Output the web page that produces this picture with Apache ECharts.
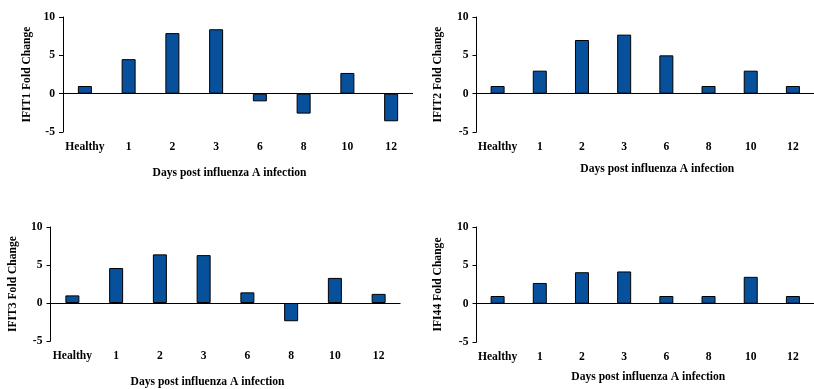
<!DOCTYPE html>
<html>
<head>
<meta charset="utf-8">
<script src="https://cdn.jsdelivr.net/npm/echarts@6/dist/echarts.min.js"></script>
<style>html,body{margin:0;padding:0;background:#fff}#c{width:814px;height:389px}</style>
</head>
<body>
<div id="c"></div>
<script>
const categories = ['Healthy', '1', '2', '3', '6', '8', '10', '12'];
const ifit1 = [1, 4.5, 7.9, 8.4, -1.0, -2.6, 2.7, -3.6];
const ifit2 = [1, 3, 7, 7.7, 5, 1, 3, 1];
const ifit3 = [1, 4.6, 6.4, 6.3, 1.4, -2.4, 3.3, 1.2];
const ifi44 = [1, 2.7, 4.1, 4.2, 1, 1, 3.5, 1];
const yTicks = { min: -5, max: 10, interval: 5 };
const xName = 'Days post influenza A infection';

const panels = [
  { data: ifit1, yName: 'IFIT1 Fold Change', grid: { left: 63, top: 17, width: 350, height: 115 }, nameGap: 35, pad: [0, 17, 0, 0], yGap: 30 },
  { data: ifit2, yName: 'IFIT2 Fold Change', grid: { left: 476.5, top: 17, width: 349, height: 115 }, nameGap: 31, pad: [0, 0, 0, 24], yGap: 33 },
  { data: ifit3, yName: 'IFIT3 Fold Change', grid: { left: 50.5, top: 227, width: 350, height: 115 }, nameGap: 35, pad: [0, 36, 0, 0], yGap: 32 },
  { data: ifi44, yName: 'IFI44 Fold Change', grid: { left: 476.5, top: 227, width: 349, height: 115 }, nameGap: 28.5, pad: [0, 0, 0, 6], yGap: 33 }
];

const font = 'Liberation Serif';
const txt = { fontFamily: font, fontWeight: 'bold', fontSize: 11.6, color: '#000' };

const option = {
  animation: false,
  backgroundColor: '#fff',
  grid: panels.map(p => Object.assign({ containLabel: false }, p.grid)),
  xAxis: panels.map((p, i) => ({
    type: 'category',
    gridIndex: i,
    data: categories,
    position: 'bottom',
    axisLine: { show: false, onZero: false },
    axisTick: { show: false },
    axisLabel: Object.assign({ margin: 9, interval: 0 }, txt),
    splitLine: { show: false },
    name: xName,
    nameLocation: 'middle',
    nameGap: p.nameGap,
    nameTextStyle: Object.assign({ padding: p.pad }, txt)
  })),
  yAxis: panels.map((p, i) => ({
    type: 'value',
    gridIndex: i,
    min: yTicks.min,
    max: yTicks.max,
    interval: yTicks.interval,
    axisLine: { show: true, lineStyle: { color: '#000', width: 1 } },
    axisTick: { show: true, inside: false, length: 4, lineStyle: { color: '#000', width: 1 } },
    axisLabel: Object.assign({ margin: 8 }, txt),
    splitLine: { show: false },
    name: p.yName,
    nameLocation: 'middle',
    nameGap: p.yGap,
    nameTextStyle: txt
  })),
  series: panels.map((p, i) => ({
    type: 'bar',
    xAxisIndex: i,
    yAxisIndex: i,
    data: p.data,
    barWidth: 14,
    itemStyle: { color: '#07519C', borderColor: '#000', borderWidth: 1 },
    markLine: {
      silent: true,
      symbol: 'none',
      label: { show: false },
      lineStyle: { color: '#000', width: 1, type: 'solid' },
      data: [{ yAxis: 0 }]
    }
  }))
};

echarts.init(document.getElementById('c'), null, { renderer: 'canvas' }).setOption(option);
</script>
</body>
</html>
